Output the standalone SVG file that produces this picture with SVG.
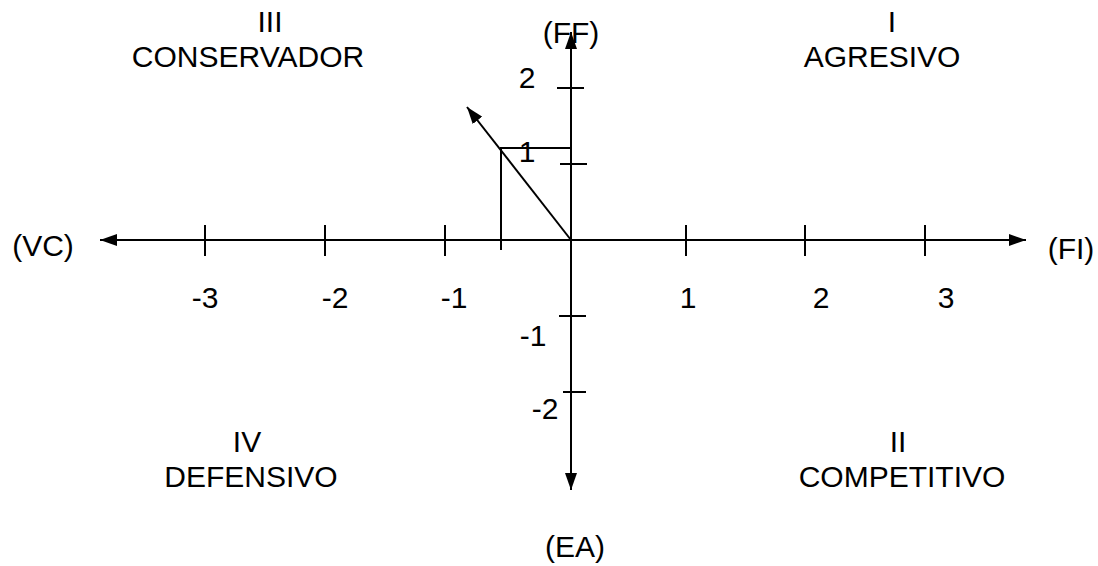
<svg xmlns="http://www.w3.org/2000/svg" width="1098" height="566" viewBox="0 0 1098 566">
<style>
text{font-family:"Liberation Sans",Arial,sans-serif;font-size:30px;fill:#000;text-anchor:middle}
.ln{stroke:#000;stroke-width:2;fill:none}
</style>
<defs>
<marker id="ah" viewBox="0 0 17 12" refX="17" refY="6" markerWidth="17" markerHeight="12" markerUnits="userSpaceOnUse" orient="auto">
<path d="M0,0 L17,6 L0,12 Z" fill="#000"/>
</marker>
</defs>
<rect width="1098" height="566" fill="#fff"/>
<g id="connectors">
<line class="ln" x1="571" y1="240" x2="100" y2="240" marker-end="url(#ah)"/>
<line class="ln" x1="571" y1="240" x2="1026" y2="240" marker-end="url(#ah)"/>
<line class="ln" x1="571" y1="240" x2="571" y2="32" marker-end="url(#ah)"/>
<line class="ln" x1="571" y1="240" x2="571" y2="490" marker-end="url(#ah)"/>
<line class="ln" x1="571" y1="240" x2="467" y2="107" marker-end="url(#ah)"/>
<path class="ln" d="M571,148 H501 V250"/>
</g>
<g id="ticks">
<path class="ln" d="M205,225V256M325,225V256M445,225V256M686,225V256M805,225V256M925,225V256"/>
<path class="ln" d="M557,88H584M560,164H587M559,316H586M563,392H586"/>
</g>
<g id="quadrant-III"><text x="270" y="32">III</text><text x="248" y="67">CONSERVADOR</text></g>
<g id="quadrant-I"><text x="892" y="32">I</text><text x="882" y="67">AGRESIVO</text></g>
<g id="quadrant-IV"><text x="247" y="452">IV</text><text x="251" y="487">DEFENSIVO</text></g>
<g id="quadrant-II"><text x="898" y="452">II</text><text x="902" y="487">COMPETITIVO</text></g>
<g id="axis-labels">
<text x="571" y="43">(FF)</text>
<text x="575" y="557">(EA)</text>
<text x="43" y="256">(VC)</text>
<text x="1071" y="259">(FI)</text>
</g>
<g id="x-numbers">
<text x="205" y="308">-3</text>
<text x="335" y="308">-2</text>
<text x="454" y="308">-1</text>
<text x="688" y="308">1</text>
<text x="821" y="308">2</text>
<text x="946" y="308">3</text>
</g>
<g id="y-numbers">
<text x="527" y="88">2</text>
<text x="527" y="162">1</text>
<text x="533" y="346">-1</text>
<text x="545" y="419">-2</text>
</g>
</svg>
